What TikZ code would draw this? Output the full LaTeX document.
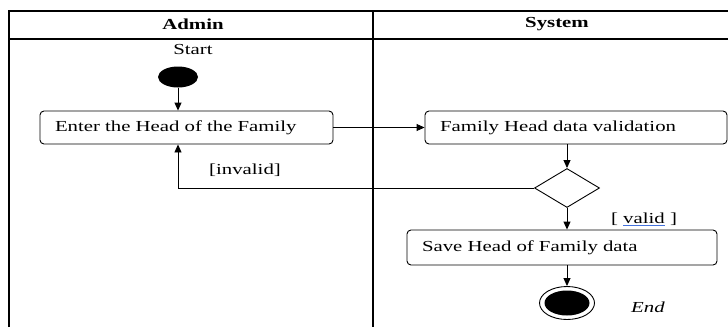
\documentclass[tikz,border=0pt]{standalone}
\usepackage{fontspec}
\setmainfont{Liberation Serif}[FakeStretch=1.36]
\usetikzlibrary{shapes.geometric,arrows.meta}
\definecolor{wordblue}{RGB}{68,114,220}
\newcommand{\blueline}[1]{\setbox0\hbox{#1}\rlap{\color{wordblue}\rule[-2.5pt]{\wd0}{1pt}}\box0\relax}
\begin{document}
\begin{tikzpicture}[x=1pt,y=-1pt,
  lane/.style={line width=1.1pt},
  act/.style={draw,line width=0.9pt,rounded corners=4pt,inner xsep=15pt,inner ysep=0pt,align=left},
  flow/.style={line width=0.9pt,-{Triangle[length=8pt,width=7pt]}}]\fontsize{15.3}{18}\selectfont
\useasboundingbox (0,0) rectangle (728,327);
% swimlanes
\draw[lane] (9,327) -- (9,11) -- (728,11);
\draw[lane] (9,39) -- (728,39);
\draw[lane] (373,11) -- (373,327);
\node[font=\bfseries] (admin) at (193,24) {Admin};
\node[font=\bfseries] (system) at (557,24) {System};
% admin lane
\node (startlbl) at (193,50) {Start};
\node[fill,ellipse,minimum width=40,minimum height=21,inner sep=0pt] (start) at (178,77) {};
\node[act,text width=263,minimum height=33] (enter) at (186.5,127.5) {Enter the Head of the Family};
\node (invalid) at (245,170) {[invalid]};
% system lane
\node[act,text width=272,minimum height=33] (check) at (576,127.5) {Family Head data validation};
\node[draw,diamond,line width=0.9pt,minimum width=65,minimum height=39,inner sep=0pt] (dec) at (567,188) {};
\node (validlbl) at (644,219) {[ \blueline{valid} ]};
\node[act,text width=280,minimum height=35] (save) at (562,247.5) {Save Head of Family data};
\node[draw,ellipse,line width=0.9pt,minimum width=55,minimum height=33,inner sep=0pt] (end) at (567,303) {};
\node[fill,ellipse,minimum width=45,minimum height=25,inner sep=0pt] (endin) at (end) {};
\node[font=\itshape] (endlbl) at (648,307) {End};
% flows
\draw[flow] (start.south) -- (start.south |- enter.north);
\draw[flow] (enter.east) -- (check.west);
\draw[flow] (dec.north |- check.south) -- (dec.north);
\draw[flow] (dec.west) -- (dec.west -| start) -- (start |- enter.south);
\draw[flow] (dec.south) -- (dec.south |- save.north);
\draw[flow] (dec.south |- save.south) -- (end.north);
\end{tikzpicture}
\end{document}
